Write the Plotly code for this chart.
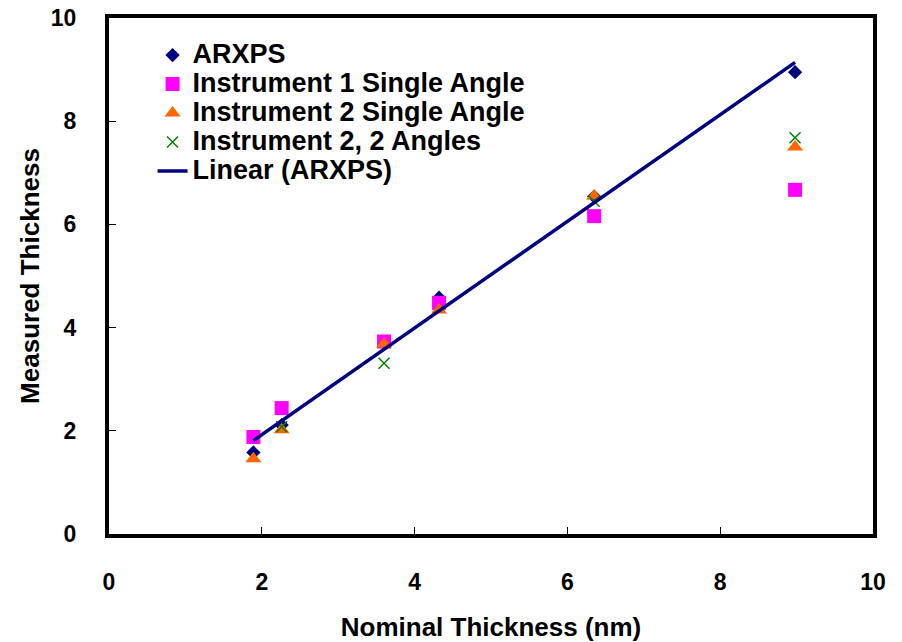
import numpy as np
import plotly.graph_objects as go

# Nominal film thickness (nm) and measured thickness for each method
nominal = [1.89, 2.26, 3.60, 4.32, 6.35, 8.98]
arxps = [1.58, 2.11, 3.70, 4.58, 6.54, 8.95]
inst1_single = [1.88, 2.44, 3.73, 4.48, 6.16, 6.67]
inst2_single = [1.46, 2.02, 3.68, 4.34, 6.55, 7.50]
nominal_two_angle = [2.26, 3.60, 6.35, 8.98]
inst2_two_angle = [2.08, 3.31, 6.45, 7.68]

tick_vals = [0, 2, 4, 6, 8, 10]

FONT = "Liberation Sans, Arial, sans-serif"


def legend_name(text):
    return f"<span style='font-size:27px'>{text}</span>"


# Least-squares line through the ARXPS results, spanning the measured range
slope, intercept = np.polyfit(nominal, arxps, 1)
fit_x = [min(nominal), max(nominal)]
fit_y = [slope * x + intercept for x in fit_x]

fig = go.Figure()
fig.add_trace(go.Scatter(
    x=nominal, y=arxps, mode="markers", name=legend_name("ARXPS"),
    marker=dict(symbol="diamond", size=11, color="#000080"),
))
fig.add_trace(go.Scatter(
    x=nominal, y=inst1_single, mode="markers",
    name=legend_name("Instrument 1 Single Angle"),
    marker=dict(symbol="square", size=14, color="#FF00FF"),
))
fig.add_trace(go.Scatter(
    x=nominal, y=inst2_single, mode="markers",
    name=legend_name("Instrument 2 Single Angle"),
    marker=dict(symbol="triangle-up", size=14, color="#FF6600"),
))
fig.add_trace(go.Scatter(
    x=nominal_two_angle, y=inst2_two_angle, mode="markers",
    name=legend_name("Instrument 2, 2 Angles"),
    marker=dict(symbol="x-thin", size=11, color="#008000",
                line=dict(color="#008000", width=1.5)),
))
fig.add_trace(go.Scatter(
    x=fit_x, y=fit_y, mode="lines", name=legend_name("Linear (ARXPS)"),
    line=dict(color="#000080", width=3.5),
))

axis_common = dict(
    range=[0, 10], tickvals=tick_vals, showgrid=False, zeroline=False,
    showline=True, linecolor="black", linewidth=4, mirror=True,
    ticks="inside", ticklen=7, tickwidth=1, tickcolor="black",
    automargin=False,
    tickfont=dict(family=FONT, size=23, color="black", weight="bold"),
)

fig.update_layout(
    width=902, height=642,
    margin=dict(l=109, r=29, t=18, b=108),
    paper_bgcolor="white", plot_bgcolor="white",
    font=dict(family=FONT, color="black"),
    xaxis=dict(
        **axis_common, ticklabelstandoff=24,
        title=dict(text="Nominal Thickness (nm)", standoff=26,
                   font=dict(family=FONT, size=26, color="black", weight="bold")),
    ),
    yaxis=dict(
        **axis_common, ticklabelstandoff=24,
        title=dict(text="Measured Thickness", standoff=5,
                   font=dict(family=FONT, size=26, color="black", weight="bold")),
    ),
    legend=dict(
        x=0.057, y=0.966, xanchor="left", yanchor="top",
        bgcolor="rgba(0,0,0,0)", borderwidth=0,
        font=dict(family=FONT, size=20, color="black", weight="bold"),
    ),
)

fig.write_html("out.html")
